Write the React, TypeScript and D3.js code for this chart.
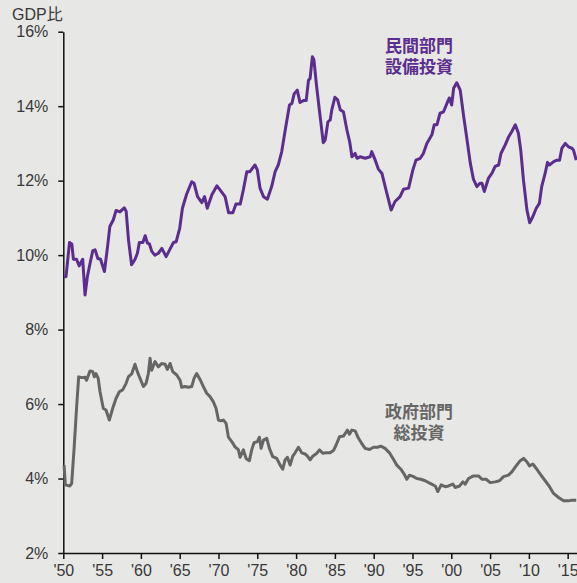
import React, { useEffect, useRef } from 'react';
import * as d3 from 'd3';

// 民間部門設備投資 (GDP比, %)
const privateYears = [
  1950.1, 1950.35, 1950.8, 1951.1, 1951.3, 1951.7, 1952.05, 1952.5, 1952.8, 1953.1, 1953.45, 1953.8,
  1954.1, 1954.45, 1954.8, 1955.3, 1955.7, 1956.0, 1956.45, 1956.8, 1957.3, 1957.85, 1958.1, 1958.4,
  1958.8, 1959.25, 1959.55, 1959.8, 1960.25, 1960.55, 1960.85, 1961.1, 1961.4, 1961.8, 1962.25, 1962.7,
  1963.25, 1963.7, 1964.2, 1964.55, 1965.0, 1965.35, 1965.9, 1966.55, 1966.85, 1967.3, 1967.85, 1968.2,
  1968.55, 1969.15, 1969.8, 1970.2, 1970.85, 1971.3, 1971.85, 1972.25, 1972.8, 1973.2, 1973.65, 1974.05,
  1974.7, 1975.0, 1975.35, 1975.8, 1976.3, 1976.85, 1977.3, 1977.7, 1978.15, 1978.6, 1979.15, 1979.45,
  1979.75, 1980.15, 1980.5, 1980.95, 1981.3, 1981.6, 1981.8, 1982.1, 1982.3, 1982.65, 1983.1, 1983.5,
  1983.75, 1984.1, 1984.4, 1984.6, 1985.0, 1985.35, 1985.7, 1986.1, 1986.55, 1986.9, 1987.2, 1987.6,
  1987.85, 1988.25, 1988.9, 1989.55, 1989.75, 1990.2, 1990.6, 1991.05, 1991.7, 1992.25, 1992.75, 1993.4,
  1993.85, 1994.5, 1995.05, 1995.45, 1996.0, 1996.4, 1996.85, 1997.5, 1997.8, 1998.15, 1998.55, 1999.0,
  1999.45, 1999.75, 2000.05, 2000.3, 2000.7, 2001.15, 2001.6, 2002.0, 2002.45, 2002.85, 2003.3, 2003.7,
  2003.95, 2004.25, 2004.8, 2005.25, 2005.65, 2006.1, 2006.4, 2006.95, 2007.4, 2007.8, 2008.25, 2008.65,
  2008.95, 2009.3, 2009.75, 2010.1, 2010.5, 2010.95, 2011.35, 2011.65, 2012.1, 2012.4, 2012.65, 2013.2,
  2013.6, 2013.95, 2014.25, 2014.7, 2015.1, 2015.55, 2015.75, 2016.1,
];
const privateValues = [
  9.42, 9.42, 10.34, 10.3, 9.89, 9.89, 9.71, 9.89, 8.93, 9.42, 9.78, 10.12,
  10.14, 9.91, 9.89, 9.56, 10.22, 10.77, 10.95, 11.2, 11.16, 11.27, 11.18, 10.41,
  9.74, 9.89, 10.05, 10.34, 10.34, 10.52, 10.32, 10.3, 10.1, 10.0, 10.05, 10.18,
  9.96, 10.14, 10.34, 10.36, 10.72, 11.26, 11.64, 11.97, 11.93, 11.57, 11.41, 11.57,
  11.26, 11.62, 11.86, 11.75, 11.57, 11.14, 11.14, 11.37, 11.37, 11.75, 12.24, 12.24,
  12.42, 12.29, 11.8, 11.57, 11.5, 11.84, 12.24, 12.42, 12.78, 13.36, 14.03, 14.07,
  14.33, 14.43, 14.1, 14.15, 14.15, 14.7, 14.74, 15.33, 15.24, 14.52, 13.72, 13.02,
  13.09, 13.58, 13.63, 13.9, 14.24, 14.17, 13.9, 13.85, 13.36, 13.05, 12.64, 12.73,
  12.6, 12.64, 12.6, 12.64, 12.78, 12.55, 12.31, 12.2, 11.66, 11.21, 11.44, 11.57,
  11.77, 11.8, 12.29, 12.55, 12.6, 12.73, 13.0, 13.23, 13.5, 13.5, 13.81, 13.85,
  14.08, 14.22, 14.03, 14.48, 14.63, 14.43, 13.72, 13.14, 12.47, 12.04, 11.84, 11.93,
  11.93, 11.71, 12.07, 12.2, 12.38, 12.42, 12.73, 12.96, 13.18, 13.32, 13.5, 13.27,
  12.82, 12.02, 11.21, 10.87, 11.03, 11.26, 11.39, 11.84, 12.2, 12.49, 12.42, 12.51,
  12.55, 12.55, 12.87, 13.0, 12.91, 12.87, 12.82, 12.55,
];

// 政府部門総投資 (GDP比, %)
const govYears = [
  1950.1, 1950.26, 1950.86, 1951.08, 1951.38, 1951.72, 1951.98, 1952.37, 1952.8, 1953.0, 1953.44, 1953.79,
  1954.0, 1954.2, 1954.5, 1954.73, 1955.16, 1955.5, 1955.93, 1956.36, 1956.79, 1957.22, 1957.65, 1958.08,
  1958.38, 1958.81, 1959.24, 1959.54, 1959.89, 1960.32, 1960.66, 1960.96, 1961.18, 1961.39, 1961.82, 1962.25,
  1962.68, 1963.11, 1963.41, 1963.76, 1964.1, 1964.62, 1965.05, 1965.26, 1965.69, 1966.12, 1966.55, 1966.85,
  1967.19, 1967.62, 1968.05, 1968.48, 1968.91, 1969.34, 1969.69, 1969.99, 1970.29, 1970.63, 1970.98, 1971.28,
  1971.71, 1972.14, 1972.57, 1972.78, 1973.21, 1973.55, 1973.98, 1974.28, 1974.58, 1975.01, 1975.27, 1975.49,
  1975.79, 1976.22, 1976.56, 1976.99, 1977.51, 1977.94, 1978.28, 1978.58, 1978.88, 1979.23, 1979.57, 1979.87,
  1980.3, 1980.73, 1981.16, 1981.46, 1981.81, 1982.15, 1982.67, 1983.01, 1983.44, 1983.87, 1984.38, 1984.81,
  1985.16, 1985.59, 1986.1, 1986.62, 1986.88, 1987.18, 1987.61, 1988.04, 1988.47, 1988.9, 1989.46, 1989.97,
  1990.49, 1990.92, 1991.47, 1992.03, 1992.56, 1992.98, 1993.5, 1993.93, 1994.27, 1994.61, 1995.13, 1995.55,
  1996.07, 1996.63, 1997.27, 1997.92, 1998.26, 1998.69, 1999.21, 1999.64, 2000.2, 2000.5, 2001.06, 2001.49,
  2001.79, 2002.22, 2002.86, 2003.51, 2003.94, 2004.49, 2005.01, 2005.65, 2006.21, 2006.73, 2007.37, 2007.8,
  2008.36, 2008.88, 2009.31, 2009.74, 2010.08, 2010.51, 2010.95, 2011.46, 2012.1, 2012.66, 2013.18, 2013.82,
  2014.47, 2015.11, 2015.54, 2016.1,
];
const govValues = [
  4.36, 3.83, 3.8, 3.87, 4.77, 5.93, 6.73, 6.71, 6.72, 6.64, 6.89, 6.87,
  6.73, 6.82, 6.69, 6.33, 5.88, 5.84, 5.57, 5.88, 6.15, 6.33, 6.38, 6.55,
  6.73, 6.81, 7.07, 6.87, 6.69, 6.47, 6.55, 6.82, 7.23, 6.91, 7.14, 7.0,
  7.09, 7.07, 6.93, 7.09, 6.87, 6.78, 6.64, 6.45, 6.47, 6.45, 6.47, 6.69,
  6.82, 6.66, 6.47, 6.29, 6.2, 6.06, 5.88, 5.57, 5.55, 5.57, 5.48, 5.11,
  4.99, 4.85, 4.77, 4.57, 4.77, 4.54, 4.48, 4.77, 4.96, 4.99, 5.11, 4.81,
  5.03, 5.08, 4.81, 4.59, 4.54, 4.36, 4.25, 4.5, 4.57, 4.36, 4.6, 4.69,
  4.84, 4.69, 4.66, 4.6, 4.5, 4.6, 4.68, 4.77, 4.68, 4.69, 4.69, 4.75,
  4.9, 5.12, 5.14, 5.3, 5.19, 5.3, 5.28, 5.08, 4.94, 4.81, 4.78, 4.84,
  4.84, 4.87, 4.81, 4.69, 4.51, 4.36, 4.25, 4.12, 3.98, 4.09, 4.05, 4.0,
  3.98, 3.94, 3.87, 3.8, 3.65, 3.83, 3.78, 3.8, 3.85, 3.76, 3.8, 3.91,
  3.85, 4.0, 4.07, 4.07, 3.98, 3.98, 3.89, 3.91, 3.94, 4.05, 4.09, 4.18,
  4.34, 4.48, 4.54, 4.45, 4.34, 4.39, 4.27, 4.12, 3.94, 3.78, 3.6, 3.49,
  3.4, 3.4, 3.42, 3.42,
];

const xTickYears = [1950, 1955, 1960, 1965, 1970, 1975, 1980, 1985, 1990, 1995, 2000, 2005, 2010, 2015];
const xTickLabels = ["'50", "'55", "'60", "'65", "'70", "'75", "'80", "'85", "'90", "'95", "'00", "'05", "'10", "'15"];
const yTicks = [2, 4, 6, 8, 10, 12, 14, 16];
const privateLabel = ['民間部門', '設備投資'];
const govLabel = ['政府部門', '総投資'];

const W = 577;
const H = 583;

const App = () => {
  const ref = useRef<SVGSVGElement>(null);

  useEffect(() => {
    const svg = d3.select(ref.current);
    svg.selectAll('*').remove();

    const x = d3.scaleLinear().domain([1950, 2016.2]).range([63.3, 577]);
    const y = d3.scaleLinear().domain([2, 16]).range([553, 31.7]);

    svg.append('rect').attr('width', W).attr('height', H).attr('fill', '#e7e7e5');

    const font = 'Arial, "Liberation Sans", "Noto Sans CJK JP", sans-serif';

    // y axis
    const yAxis = svg.append('g')
      .attr('transform', `translate(${x(1950)},0)`)
      .call(d3.axisLeft(y).tickValues(yTicks).tickSize(5).tickSizeOuter(0).tickFormat(d => `${d}%`));
    yAxis.select('.domain').attr('stroke', '#111').attr('stroke-width', 1.5);
    yAxis.selectAll('.tick line').attr('stroke', '#111').attr('stroke-width', 1.5);
    yAxis.selectAll('.tick text')
      .attr('x', -15)
      .attr('fill', '#383838')
      .style('font-family', font)
      .style('font-size', '16px');

    // x axis
    const xAxis = svg.append('g')
      .attr('transform', `translate(0,${y(2)})`)
      .call(d3.axisBottom(x).tickValues(xTickYears).tickSize(6).tickSizeOuter(0)
        .tickFormat((d, i) => xTickLabels[i]));
    xAxis.select('.domain').attr('stroke', '#111').attr('stroke-width', 1.5);
    xAxis.selectAll('.tick line').attr('stroke', '#111').attr('stroke-width', 1.5);
    xAxis.selectAll('.tick text')
      .attr('y', 12)
      .attr('fill', '#383838')
      .style('font-family', font)
      .style('font-size', '16px');

    svg.append('text')
      .attr('x', 12)
      .attr('y', 20)
      .attr('fill', '#383838')
      .style('font-family', font)
      .style('font-size', '16px')
      .text('GDP比');

    const line = d3.line<[number, number]>()
      .x(d => x(d[0]))
      .y(d => y(d[1]));

    const gov = govYears.map((yr, i) => [yr, govValues[i]] as [number, number]);
    const priv = privateYears.map((yr, i) => [yr, privateValues[i]] as [number, number]);

    svg.append('path')
      .attr('d', line(gov))
      .attr('fill', 'none')
      .attr('stroke', '#666666')
      .attr('stroke-width', 3)
      .attr('stroke-linejoin', 'round');

    svg.append('path')
      .attr('d', line(priv))
      .attr('fill', 'none')
      .attr('stroke', '#5b2d8e')
      .attr('stroke-width', 3)
      .attr('stroke-linejoin', 'round');

    const addLabel = (lines: string[], cx: number, cy: number, color: string) => {
      svg.append('text')
        .attr('text-anchor', 'middle')
        .attr('fill', color)
        .style('font-family', '"Noto Sans CJK JP", sans-serif')
        .style('font-size', '17px')
        .style('font-weight', 'bold')
        .selectAll('tspan')
        .data(lines)
        .join('tspan')
        .attr('x', cx)
        .attr('y', (d, i) => cy + i * 21)
        .attr('dominant-baseline', 'middle')
        .text(d => d);
    };

    addLabel(privateLabel, 419, 47, '#5b2d8e');
    addLabel(govLabel, 419, 413, '#666666');
  }, []);

  return (
    <svg ref={ref} width={W} height={H}
      style={{ position: 'absolute', left: 0, top: 0, display: 'block' }} />
  );
};

export default App;
